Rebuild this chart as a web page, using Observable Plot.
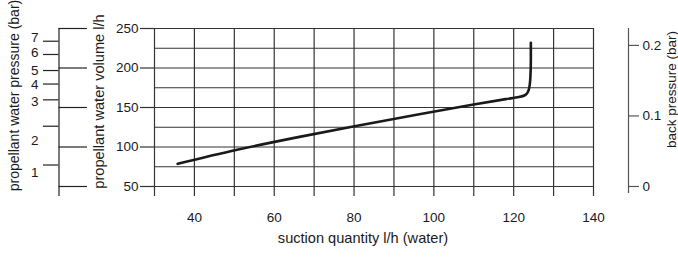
<!DOCTYPE html>
<html><head><meta charset="utf-8">
<script src="https://cdn.jsdelivr.net/npm/d3@7"></script>
<script src="https://cdn.jsdelivr.net/npm/@observablehq/plot@0.6"></script>
<style>body{margin:0;background:#fff}#chart svg{display:block}</style>
</head><body><div id="chart"></div>
<script>
// ---- data ----
const suction = [35.8, 50.7, 66, 79.8, 96.7, 109.6, 118, 121.3, 122.8, 123.6, 124, 124.2, 124.3, 124.3];
const volume  = [78.7, 96.5, 112.5, 126, 141.8, 153.4, 160.6, 163.3, 165.5, 170, 178, 190, 210, 232];

const suctionGrid = [30, 40, 50, 60, 70, 80, 90, 100, 110, 120, 130, 140];
const suctionLabels = [40, 60, 80, 100, 120, 140];
const volumeGrid = [50, 75, 100, 125, 150, 175, 200, 225, 250];
const volumeTicks = [50, 100, 150, 200, 250];

// propellant water pressure (bar): positions expressed on the l/h scale
const pressureTickAt = [233.9, 217.1, 196.8, 179.7, 159.7, 126.3, 77.2];
const pressureLabels = ["7", "6", "5", "4", "3", "2", "1"];
const pressureLabelAt = [238, 220, 196.5, 178.7, 157.2, 108.2, 67.3];

// back pressure (bar)
const backTicks = [0, 0.1, 0.2];
const backLabels = ["0", "0.1", "0.2"];
const backToVolume = b => 50 + b * 893;

const xTitle = "suction quantity l/h (water)";
const volTitle = "propellant water volume l/h";
const presTitle = "propellant water pressure (bar)";
const backTitle = "back pressure (bar)";

const curve = suction.map((s, i) => ({s, v: volume[i]}));
const backVol = backTicks.map(backToVolume);
const backData = backTicks.map((b, i) => ({v: backVol[i], t: backLabels[i]}));
const presData = pressureLabels.map((t, i) => ({v: pressureLabelAt[i], t}));

const grid = "#333";
const chart = Plot.plot({
  width: 678, height: 257,
  marginLeft: 154, marginRight: 85, marginTop: 28, marginBottom: 71,
  x: {domain: [30, 140]},
  y: {domain: [50, 250]},
  style: {fontFamily: "'Liberation Sans', Arial, sans-serif", fontSize: "13px", color: "#1a1a1a", background: "#fff", overflow: "visible"},
  marks: [
    Plot.ruleY(volumeGrid, {stroke: grid, strokeWidth: 1.2}),
    Plot.ruleX(suctionGrid, {stroke: grid, strokeWidth: 1.2}),
    Plot.axisX(suctionGrid, {tickSize: 10, tickPadding: 16, stroke: grid, strokeWidth: 1.2, strokeOpacity: 1, fontSize: 13.5,
      tickFormat: d => suctionLabels.includes(d) ? String(d) : "", label: null}),
    Plot.axisY(volumeTicks, {anchor: "left", tickSize: 14, tickPadding: 2, stroke: grid, strokeWidth: 1.2, strokeOpacity: 1, fontSize: 13.5, label: null}),
    // propellant water pressure axis
    Plot.ruleX([30], {dx: -95.5, insetBottom: -10, stroke: "#222", strokeWidth: 1.2}),
    Plot.axisY(volumeTicks, {anchor: "left", dx: -67, tickSize: 28.5, stroke: "#222", strokeWidth: 1.2, strokeOpacity: 1, tickFormat: () => "", label: null}),
    Plot.axisY(pressureTickAt, {anchor: "left", dx: -95.5, tickSize: 15.5, stroke: "#222", strokeWidth: 1.2, strokeOpacity: 1, tickFormat: () => "", label: null}),
    Plot.text(presData, {y: "v", text: "t", frameAnchor: "left", textAnchor: "end", dx: -116, fontSize: 13.5}),
    // back pressure axis
    Plot.ruleX([140], {dx: 35, insetBottom: -7, stroke: "#555", strokeWidth: 1.2}),
    Plot.axisY(backVol, {anchor: "right", dx: 35, tickSize: 10, stroke: "#555", strokeWidth: 1.2, strokeOpacity: 1, tickFormat: () => "", label: null}),
    Plot.text(backData, {y: "v", text: "t", frameAnchor: "right", textAnchor: "start", dx: 49, fontSize: 13.5}),
    // titles
    Plot.text([xTitle], {frameAnchor: "bottom", textAnchor: "middle", dy: 56, dx: -11, fontSize: 14.6}),
    Plot.text([volTitle], {frameAnchor: "left", textAnchor: "middle", rotate: -90, dx: -55.5, dy: -6, fontSize: 14.6}),
    Plot.text([presTitle], {frameAnchor: "left", textAnchor: "middle", rotate: -90, dx: -140, dy: -12, fontSize: 14}),
    Plot.text([backTitle], {frameAnchor: "right", textAnchor: "middle", rotate: -90, dx: 78, dy: -18, fontSize: 13.5}),
    // curve
    Plot.line(curve, {x: "s", y: "v", curve: "monotone-y", stroke: "#1a1a1a", strokeWidth: 2.6, strokeLinecap: "round"})
  ]
});
document.getElementById("chart").append(chart);
</script>
</body></html>
